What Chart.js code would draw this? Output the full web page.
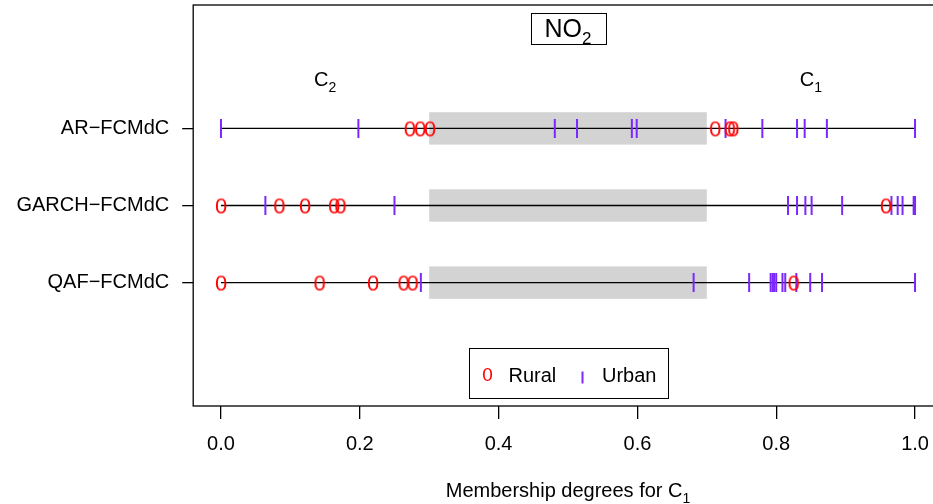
<!DOCTYPE html>
<html>
<head>
<meta charset="utf-8">
<script src="https://cdn.jsdelivr.net/npm/chart.js@4"></script>
<style>
  html, body { margin: 0; padding: 0; background: #fff; overflow: hidden; }
  #wrap { width: 960px; height: 504px; }
</style>
</head>
<body>
<div id="wrap"><canvas id="myChart" width="960" height="504"></canvas></div>
<script>
// data
var methods = ['AR\u2212FCMdC', 'GARCH\u2212FCMdC', 'QAF\u2212FCMdC'];
var rowPos = [3, 2, 1];
var ruralAR = [0.272, 0.287, 0.301, 0.712, 0.733, 0.738];
var urbanAR = [0.0, 0.198, 0.481, 0.513, 0.592, 0.599, 0.727, 0.780, 0.830, 0.841, 0.873, 1.0];
var ruralGARCH = [0.0, 0.084, 0.121, 0.163, 0.172, 0.958];
var urbanGARCH = [0.064, 0.250, 0.817, 0.830, 0.842, 0.851, 0.895, 0.966, 0.975, 0.982, 0.998, 1.0];
var ruralQAF = [0.0, 0.142, 0.219, 0.263, 0.276, 0.825];
var urbanQAF = [0.288, 0.681, 0.761, 0.792, 0.795, 0.797, 0.800, 0.809, 0.813, 0.829, 0.849, 0.866, 1.0];
var xTicks = [0, 0.2, 0.4, 0.6, 0.8, 1.0];
var band = [0.3, 0.7];

var RED = '#ff0000';
var PURPLE = '#7a28ff';
var FONT = '"Liberation Sans", Arial, sans-serif';

// red "0" used as point symbol for Rural
function zeroSymbol(size) {
    var c = document.createElement('canvas');
    c.width = 16; c.height = 26;
    var g = c.getContext('2d');
    g.fillStyle = RED;
    g.font = size + 'px ' + FONT;
    g.textAlign = 'center';
    g.textBaseline = 'alphabetic';
    g.fillText('0', 8, 13 + size * 0.358);
    return c;
}
var zero = zeroSymbol(22);

function pts(vals, row) {
    return vals.map(function (v) { return { x: v, y: row }; });
}

var ruralSets = [ruralAR, ruralGARCH, ruralQAF];
var urbanSets = [urbanAR, urbanGARCH, urbanQAF];
var datasets = [];
for (var i = 0; i < methods.length; i++) {
    datasets.push({
        label: 'line' + i, type: 'line', data: pts([0, 1], rowPos[i]),
        borderColor: '#000', borderWidth: 1.3, pointRadius: 0, order: 3
    });
    datasets.push({
        label: 'Urban', data: pts(urbanSets[i], rowPos[i]),
        pointStyle: 'line', rotation: 90, pointRadius: 9.5,
        borderColor: PURPLE, borderWidth: 2, backgroundColor: PURPLE, order: 1
    });
    datasets.push({
        label: 'Rural', data: pts(ruralSets[i], rowPos[i]),
        pointStyle: zero, pointRadius: 8, order: 0
    });
}

// grey bands, box, title, cluster labels, legend, x title
var decor = {
    id: 'decor',
    beforeDatasetsDraw: function (chart) {
        var ctx = chart.ctx, x = chart.scales.x, y = chart.scales.y;
        ctx.save();
        ctx.fillStyle = '#d3d3d3';
        rowPos.forEach(function (r) {
            var x0 = x.getPixelForValue(band[0]), x1 = x.getPixelForValue(band[1]);
            var y0 = y.getPixelForValue(r + 0.21), y1 = y.getPixelForValue(r - 0.21);
            ctx.fillRect(x0, y0, x1 - x0, y1 - y0);
        });
        ctx.restore();
    },
    afterDraw: function (chart) {
        var ctx = chart.ctx, a = chart.chartArea, x = chart.scales.x, y = chart.scales.y;
        ctx.save();
        ctx.strokeStyle = '#000';
        ctx.lineWidth = 1.3;
        ctx.strokeRect(a.left, a.top, a.right - a.left, a.bottom - a.top);

        function subText(main, sub, size, subSize, cx, baseY) {
            ctx.font = size + 'px ' + FONT;
            var w1 = ctx.measureText(main).width;
            ctx.font = subSize + 'px ' + FONT;
            var w2 = ctx.measureText(sub).width;
            var left = cx - (w1 + w2) / 2;
            ctx.textAlign = 'left';
            ctx.textBaseline = 'alphabetic';
            ctx.font = size + 'px ' + FONT;
            ctx.fillText(main, left, baseY);
            ctx.font = subSize + 'px ' + FONT;
            ctx.fillText(sub, left + w1, baseY + size * 0.28);
            return w1 + w2;
        }

        var cx = x.getPixelForValue(0.5);
        ctx.fillStyle = '#000';
        // NO2 title in a box
        subText('NO', '2', 25, 17, cx, 37);
        ctx.lineWidth = 1;
        ctx.strokeRect(Math.round(cx - 37.5) + 0.5, 13.5, 75, 31);

        // cluster labels
        subText('C', '2', 20, 14, x.getPixelForValue(0.15), 86);
        subText('C', '1', 20, 14, x.getPixelForValue(0.85), 86);

        // x axis title
        subText('Membership degrees for C', '1', 20, 14, cx, 497);

        // legend
        var lx = Math.round(cx - 99.5) + 0.5;
        ctx.strokeRect(lx, 348.5, 199, 50);
        ctx.font = '19px ' + FONT;
        ctx.textAlign = 'center';
        ctx.fillStyle = RED;
        ctx.fillText('0', lx + 18, 381);
        ctx.fillStyle = '#000';
        ctx.textAlign = 'left';
        ctx.font = '20px ' + FONT;
        ctx.fillText('Rural', lx + 39, 381.5);
        ctx.fillText('Urban', lx + 132.5, 381.5);
        ctx.strokeStyle = PURPLE;
        ctx.lineWidth = 2;
        ctx.beginPath();
        ctx.moveTo(lx + 113, 371.5);
        ctx.lineTo(lx + 113, 383.5);
        ctx.stroke();
        ctx.restore();
    }
};

var ctx = document.getElementById('myChart').getContext('2d');
var myChart = new Chart(ctx, {
    type: 'scatter',
    data: { datasets: datasets },
    options: {
        responsive: false,
        animation: false,
        events: [],
        layout: { autoPadding: false, padding: { top: 5, left: 0, right: 17.2, bottom: 0 } },
        plugins: {
            legend: { display: false },
            tooltip: { enabled: false }
        },
        scales: {
            x: {
                type: 'linear',
                min: -0.04,
                max: 1.04,
                afterBuildTicks: function (scale) {
                    scale.ticks = xTicks.map(function (v) { return { value: v }; });
                },
                afterFit: function (scale) {
                    scale.height = 98;
                    scale.paddingLeft = 0;
                    scale.paddingRight = 0;
                },
                border: { display: false },
                grid: { drawOnChartArea: false, drawTicks: true, tickLength: 13, color: '#000', lineWidth: 1.3 },
                ticks: {
                    color: '#000', padding: 13, maxRotation: 0, autoSkip: false,
                    font: { family: FONT, size: 20 },
                    callback: function (v) { return v.toFixed(1); }
                }
            },
            y: {
                type: 'linear',
                min: -0.6,
                max: 4.6,
                afterBuildTicks: function (scale) {
                    scale.ticks = rowPos.map(function (v) { return { value: v }; });
                },
                afterFit: function (scale) {
                    scale.width = 193.2;
                    scale.paddingTop = 0;
                    scale.paddingBottom = 0;
                },
                border: { display: false },
                grid: { drawOnChartArea: false, drawTicks: true, tickLength: 11, color: '#000', lineWidth: 1.3 },
                ticks: {
                    color: '#000', padding: 13, autoSkip: false,
                    font: { family: FONT, size: 20 },
                    callback: function (v) {
                        var k = rowPos.indexOf(v);
                        return k >= 0 ? methods[k] : '';
                    }
                }
            }
        }
    },
    plugins: [decor]
});
</script>
</body>
</html>
